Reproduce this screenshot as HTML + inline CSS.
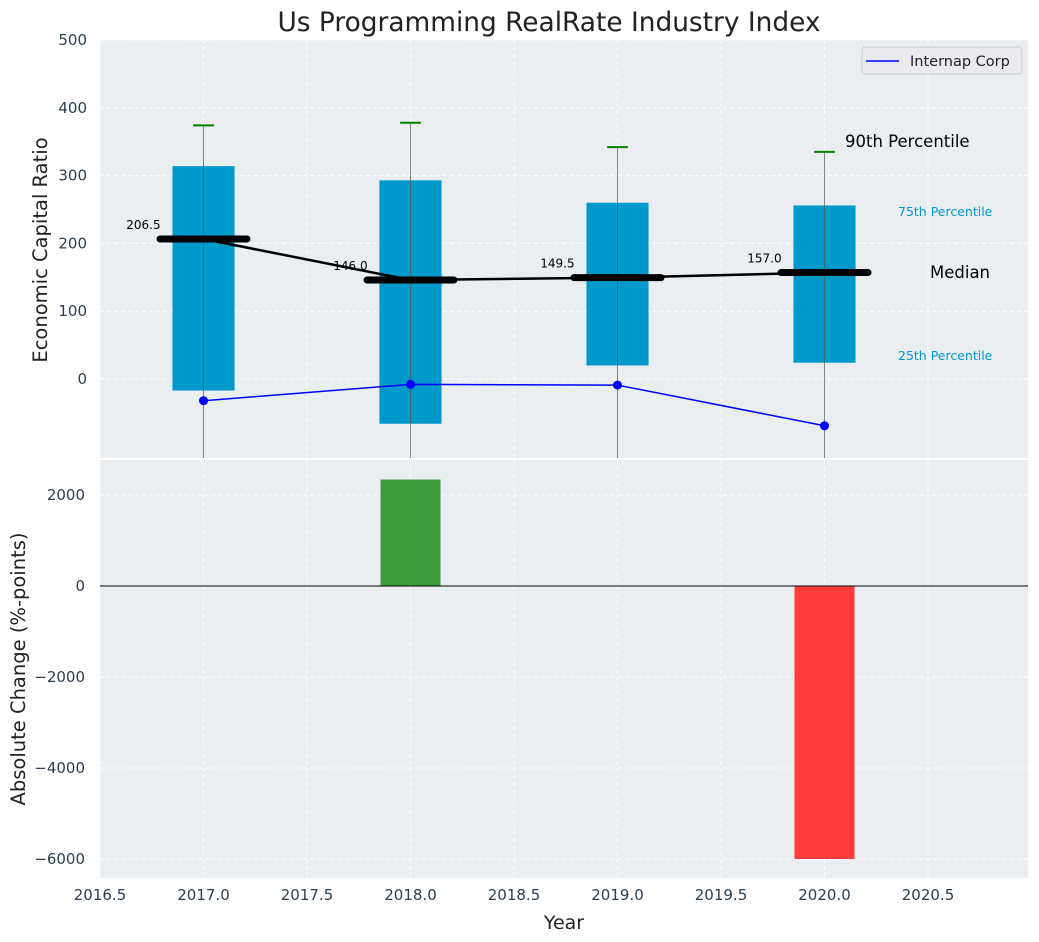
<!DOCTYPE html>
<html><head><meta charset="utf-8"><style>
body{margin:0;background:#fff}
svg{display:block;font-family:"DejaVu Sans","Liberation Sans",sans-serif}
</style></head><body>
<svg id="c" width="1039" height="942">
<defs>
<clipPath id="ct"><rect x="100" y="40" width="928" height="418"/></clipPath>
<clipPath id="cb"><rect x="100" y="460" width="928" height="418"/></clipPath>
</defs>
<text x="549" y="31" text-anchor="middle" font-size="26.4" fill="#222">Us Programming RealRate Industry Index</text>
</svg>
<script>
const years=[2017,2018,2019,2020];
const q25=[-17,-66,20,24];
const q75=[314,293,260,256];
const p90=[374,378,342,335];
const p10=[-400,-400,-400,-400];
const medians=[206.5,146.0,149.5,157.0];
const company=[-32,-8,-9,-69];
const changes=[0,2340,0,-6000];
const xTicks=[2016.5,2017,2017.5,2018,2018.5,2019,2019.5,2020,2020.5];
const yTopTicks=[0,100,200,300,400,500];
const yBotTicks=[-6000,-4000,-2000,0,2000];

const NS="http://www.w3.org/2000/svg";
const svg=document.getElementById('c');
const X=v=>100+(v-2016.5)*207;
const YT=v=>379-v*0.678;
const YB=v=>586-v*0.0455;
function mk(tag,attrs,parent){const e=document.createElementNS(NS,tag);for(const k in attrs)e.setAttribute(k,attrs[k]);(parent||svg).appendChild(e);return e;}
function txt(s,attrs){const e=mk('text',attrs);e.textContent=s;return e;}

let bt=mk('rect',{x:100,y:40,width:928,height:418,fill:'#eaeef0'});


let bb=mk('rect',{x:100,y:460,width:928,height:418,fill:'#eaeef0'});



xTicks.forEach(t=>{
  mk('line',{x1:X(t),x2:X(t),y1:40,y2:458,stroke:'#fff','stroke-dasharray':'4,3','stroke-width':1});
  mk('line',{x1:X(t),x2:X(t),y1:460,y2:878,stroke:'#fff','stroke-dasharray':'4,3','stroke-width':1});
  const l=txt(t.toFixed(1),{x:X(t),y:900,'text-anchor':'middle','font-size':15,fill:'#2c3e50'});
  
  
});
yTopTicks.forEach(t=>{
  mk('line',{x1:100,x2:1028,y1:YT(t),y2:YT(t),stroke:'#fff','stroke-dasharray':'4,3'});
  const l=txt(String(t),{x:87,y:YT(t)+5,'text-anchor':'end','font-size':15,fill:'#2c3e50'});
  
  
});
yBotTicks.forEach(t=>{
  mk('line',{x1:100,x2:1028,y1:YB(t),y2:YB(t),stroke:'#fff','stroke-dasharray':'4,3'});
  const l=txt(String(t).replace('-','\u2212'),{x:85,y:YB(t)+5,'text-anchor':'end','font-size':15,fill:'#2c3e50'});
  
  
});

const gt=mk('g',{'clip-path':'url(#ct)'});
years.forEach((y,i)=>{
  const b=mk('rect',{x:X(y-0.15),width:0.3*207,y:YT(q75[i]),height:YT(q25[i])-YT(q75[i]),fill:'#0099cc'},gt);
  
  
  mk('line',{x1:X(y),x2:X(y),y1:YT(p90[i]),y2:YT(p10[i]),stroke:'#555','stroke-width':1,opacity:0.7},gt);
  const c=mk('line',{x1:X(y-0.05),x2:X(y+0.05),y1:YT(p90[i]),y2:YT(p90[i]),stroke:'green','stroke-width':2},gt);
  
  
});
mk('polyline',{points:years.map((y,i)=>X(y)+','+YT(medians[i])).join(' '),fill:'none',stroke:'#000','stroke-width':2.5},gt);
years.forEach((y,i)=>{
  const m=mk('line',{x1:X(y-0.21),x2:X(y+0.21),y1:YT(medians[i]),y2:YT(medians[i]),stroke:'#000','stroke-width':7,'stroke-linecap':'round'},gt);
  
  
  const l=txt(medians[i].toFixed(1),{x:X(y-0.29),y:YT(medians[i])-10,'text-anchor':'middle','font-size':12,fill:'#000'});
  
  
});
const cl=mk('polyline',{points:years.map((y,i)=>X(y)+','+YT(company[i])).join(' '),fill:'none',stroke:'blue','stroke-width':1.5},gt);


years.forEach((y,i)=>{
  const p=mk('circle',{cx:X(y),cy:YT(company[i]),r:4.5,fill:'blue'},gt);
  
  
});
[['90th Percentile',845,147,16.5,'#000'],['75th Percentile',898,216,12.5,'#0099cc'],['Median',930,278,16.5,'#000'],['25th Percentile',898,360,12.5,'#0099cc']].forEach(a=>{
  const t=txt(a[0],{x:a[1],y:a[2],'font-size':a[3],fill:a[4]});
  
  
});
const lg=mk('g',{});


mk('rect',{x:862,y:47,width:160,height:27,rx:3,fill:'#eaeaf0',stroke:'#ccc'},lg);
mk('line',{x1:866,x2:899,y1:61,y2:61,stroke:'blue','stroke-width':1.5},lg);
const lt=mk('text',{x:910,y:66,'font-size':14.5,fill:'#222'},lg);lt.textContent='Internap Corp';

const gb=mk('g',{'clip-path':'url(#cb)'});
years.forEach((y,i)=>{
  if(!changes[i])return;
  const v=changes[i];
  const r=mk('rect',{x:X(y-0.145),width:0.29*207,y:Math.min(YB(v),YB(0)),height:Math.abs(YB(v)-YB(0)),fill:v>0?'#3c9c3c':'#ff3b3b'},gb);
  
  
});
mk('line',{x1:100,x2:1028,y1:YB(0),y2:YB(0),stroke:'#000','stroke-width':1});

let t1=txt('Economic Capital Ratio',{x:0,y:0,transform:'translate(47,250) rotate(-90)','text-anchor':'middle','font-size':19.5,fill:'#222'});


let t2=txt('Absolute Change (%-points)',{x:0,y:0,transform:'translate(25,669) rotate(-90)','text-anchor':'middle','font-size':19.5,fill:'#222'});


let t3=txt('Year',{x:564,y:929,'text-anchor':'middle','font-size':19,fill:'#222'});


</script>
</body></html>
